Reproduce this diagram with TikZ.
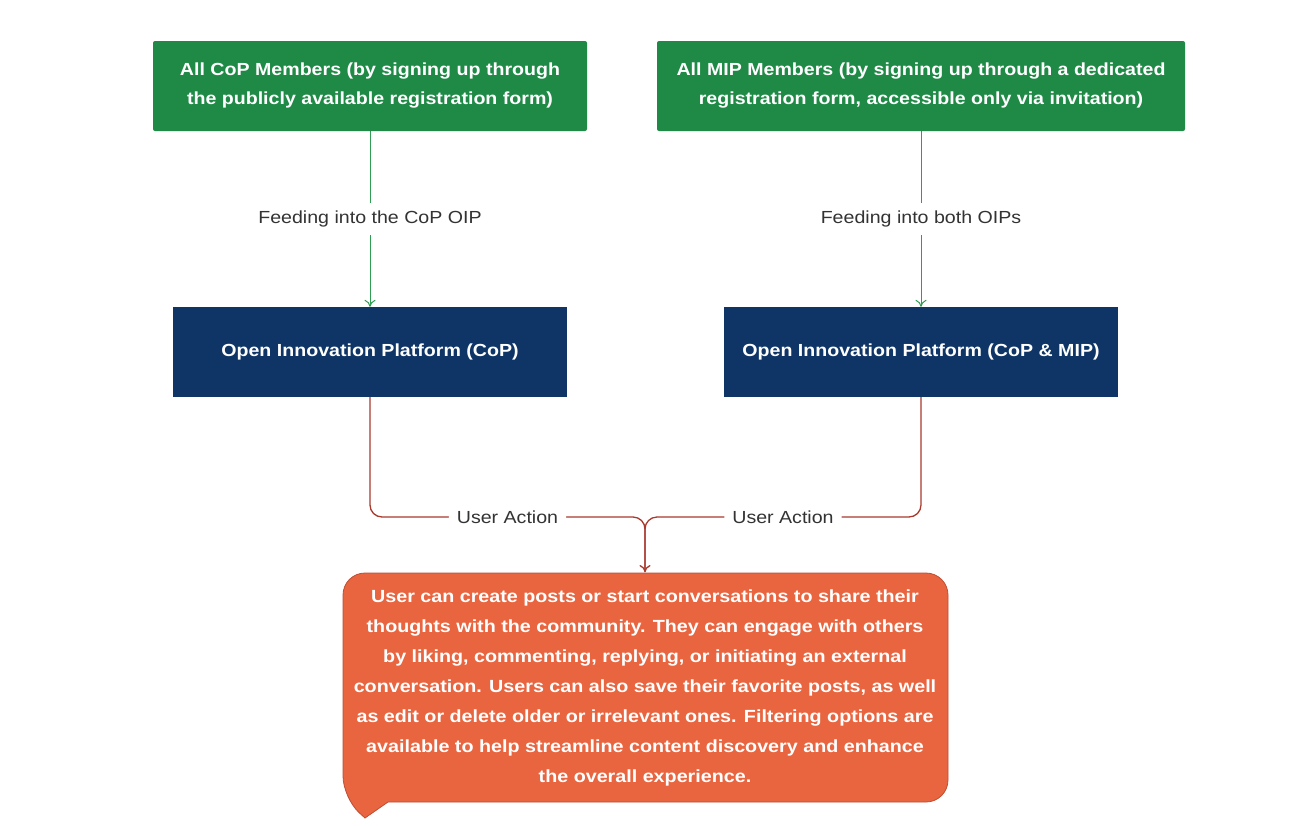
\documentclass[tikz,border=0pt]{standalone}
\usepackage{fontspec}
\setmainfont{Liberation Sans}[FakeStretch=1.12]
\usetikzlibrary{positioning,arrows.meta}
\definecolor{memgreen}{HTML}{1E8A46}
\definecolor{arrowgreen}{HTML}{2F9D52}
\definecolor{oipblue}{HTML}{0E3566}
\definecolor{postorange}{HTML}{E8653F}
\definecolor{postedge}{HTML}{BC4E35}
\definecolor{actionred}{HTML}{A9392D}
\definecolor{labelgray}{HTML}{333333}
\tikzset{>={To[length=7pt,width=11pt]}}
\tikzset{
  members/.style={fill=memgreen, text=white, rounded corners=2pt, minimum height=90pt,
    align=center, font=\fontsize{17.5}{29}\selectfont\bfseries},
  oip/.style={fill=oipblue, text=white, minimum width=394pt, minimum height=90pt,
    align=center, font=\fontsize{17.5}{29}\selectfont\bfseries},
  feed/.style={draw=arrowgreen, line width=1pt, ->},
  action/.style={draw=actionred, line width=1.3pt, rounded corners=12pt},
  flowlabel/.style={fill=white, text=labelgray, inner sep=8pt, font=\fontsize{17.5}{20}\selectfont}
}
\begin{document}
\begin{tikzpicture}[x=1pt, y=-1pt]
    \useasboundingbox (0, 0) rectangle (1303, 825);
    \node[members, minimum width=434pt] (copmem) at (370, 86) {All CoP Members (by signing up through\\the publicly available registration form)};
    \node[members, minimum width=528pt] (mipmem) at (921, 86) {All MIP Members (by signing up through a dedicated\\registration form, accessible only via invitation)};
    \node[oip] (copoip) at (370, 352) {Open Innovation Platform (CoP)};
    \node[oip] (bothoip) at (921, 352) {Open Innovation Platform (CoP \& MIP)};
    \draw[feed] (copmem) -- node[flowlabel] {Feeding into the CoP OIP} (copoip);
    \draw[feed] (mipmem) -- node[flowlabel] {Feeding into both OIPs} (bothoip);
    \filldraw[fill=postorange, draw=postedge, line width=0.8pt, rounded corners=22pt]
        (388, 802) -- (948, 802) -- (948, 573) -- (343, 573) -- (343, 798) [sharp corners] -- (365, 818) -- cycle;
    \node[text=white, align=center, font=\fontsize{17.6}{30}\selectfont\bfseries] (post) at (645, 688)
        {User can create posts or start conversations to share their\\
         thoughts with the community. They can engage with others\\
         by liking, commenting, replying, or initiating an external\\
         conversation. Users can also save their favorite posts, as well\\
         as edit or delete older or irrelevant ones. Filtering options are\\
         available to help streamline content discovery and enhance\\
         the overall experience.};
    \coordinate (join) at (645, 517);
    \coordinate (tip) at (645, 572);
    \draw[action] (copoip.south) |- node[pos=0.75, flowlabel] {User Action} (join) -- (tip);
    \draw[action, ->] (bothoip.south) |- node[pos=0.75, flowlabel] {User Action} (join) -- (tip);
\end{tikzpicture}
\end{document}
